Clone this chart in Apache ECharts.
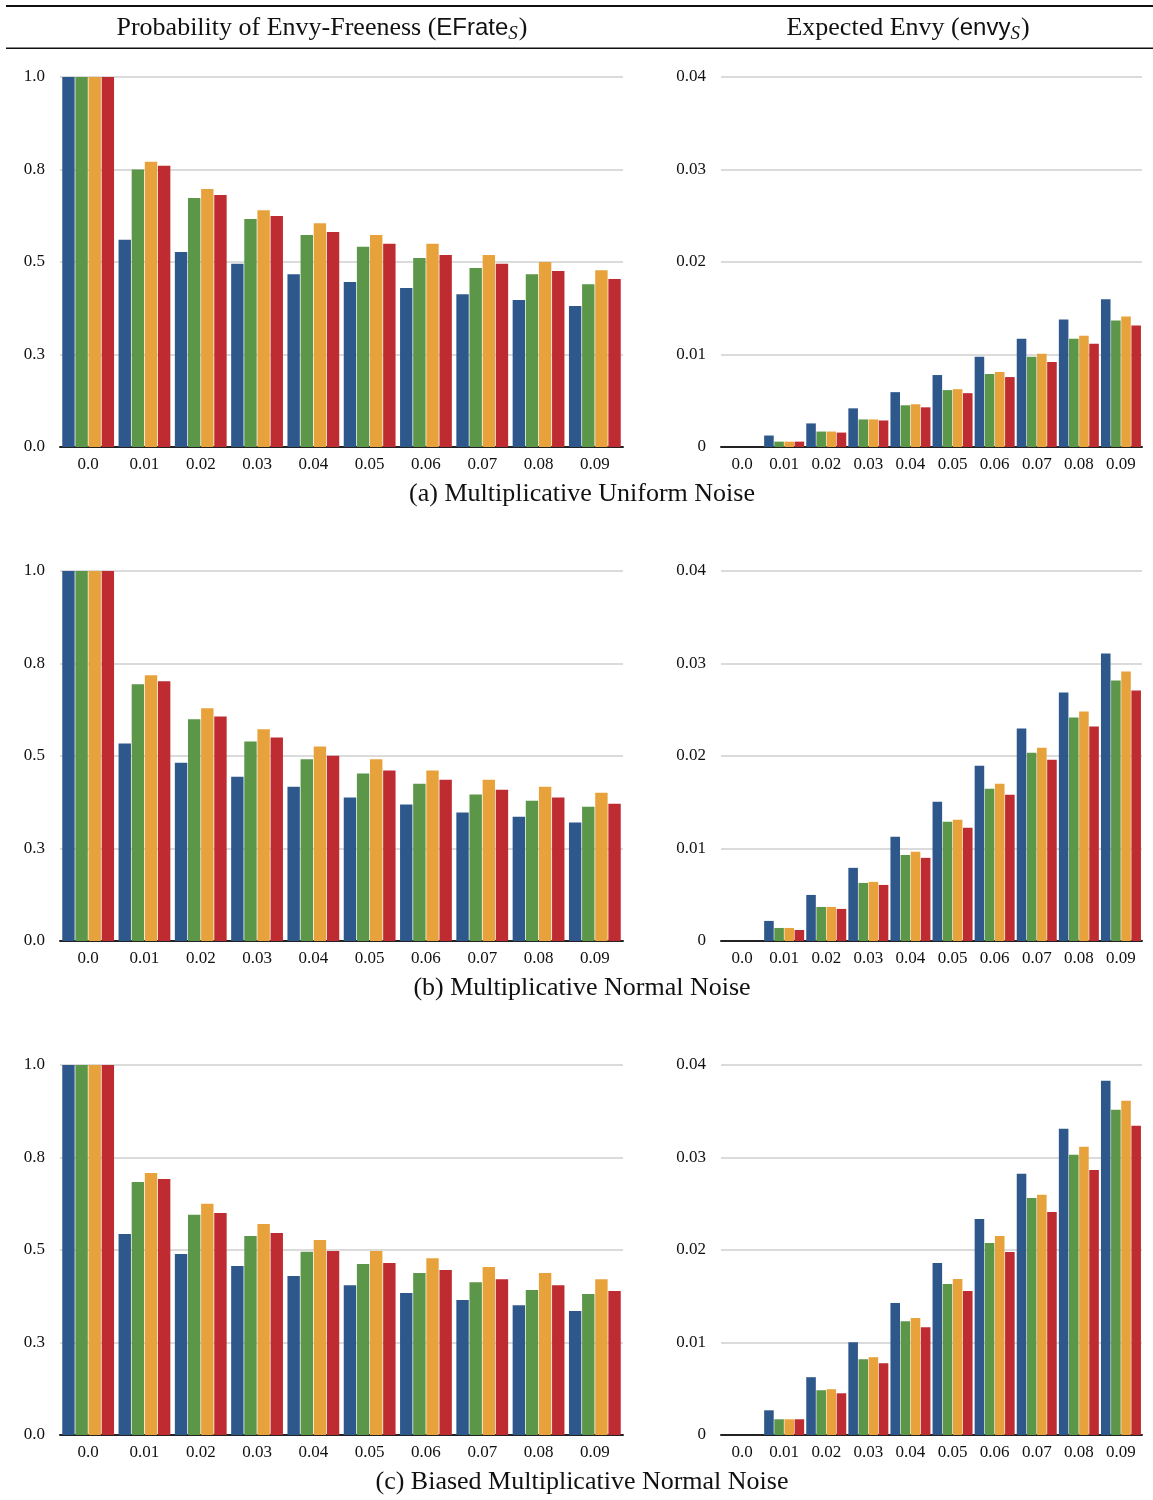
<!DOCTYPE html>
<html>
<head>
<meta charset="utf-8">
<title>Envy-freeness under noise</title>
<script src="https://cdn.jsdelivr.net/npm/echarts@6/dist/echarts.min.js"></script>
<style>
  html, body { margin: 0; padding: 0; background: #fff; }
  #chart { width: 1153px; height: 1500px; }
</style>
</head>
<body>
<div id="chart"></div>
<script>
// Noise levels on the x axis
const categories = ['0.0', '0.01', '0.02', '0.03', '0.04', '0.05', '0.06', '0.07', '0.08', '0.09'];

// Y tick labels (left: probability, right: expected envy)
const rateTickLabels = ['0.0', '0.3', '0.5', '0.8', '1.0'];
const envyTickLabels = ['0', '0.01', '0.02', '0.03', '0.04'];

const methodNames = ['Method 1', 'Method 2', 'Method 3', 'Method 4'];
const methodColors = ['#2E588C', '#5B9649', '#E7A23B', '#BE2C31'];

// (a) Multiplicative uniform noise
const uniformRate = [
  [1.0, 0.560, 0.527, 0.495, 0.467, 0.446, 0.430, 0.413, 0.397, 0.381],
  [1.0, 0.750, 0.673, 0.616, 0.573, 0.541, 0.511, 0.484, 0.467, 0.440],
  [1.0, 0.771, 0.697, 0.640, 0.605, 0.573, 0.549, 0.519, 0.500, 0.478],
  [1.0, 0.760, 0.681, 0.624, 0.581, 0.549, 0.519, 0.495, 0.476, 0.454]
];
const uniformEnvy = [
  [0, 0.00124, 0.00255, 0.00418, 0.00593, 0.00778, 0.00975, 0.01171, 0.01378, 0.01596],
  [0, 0.00058, 0.00167, 0.00298, 0.00451, 0.00615, 0.00789, 0.00975, 0.01171, 0.01367],
  [0, 0.00058, 0.00167, 0.00298, 0.00462, 0.00625, 0.00811, 0.01007, 0.01204, 0.01411],
  [0, 0.00058, 0.00156, 0.00287, 0.00429, 0.00582, 0.00756, 0.00920, 0.01116, 0.01313]
];

// (b) Multiplicative normal noise
const normalRate = [
  [1.0, 0.534, 0.482, 0.444, 0.417, 0.388, 0.369, 0.347, 0.336, 0.320],
  [1.0, 0.694, 0.599, 0.539, 0.491, 0.453, 0.425, 0.396, 0.379, 0.363],
  [1.0, 0.718, 0.629, 0.572, 0.526, 0.491, 0.461, 0.436, 0.417, 0.401],
  [1.0, 0.702, 0.607, 0.550, 0.501, 0.461, 0.436, 0.409, 0.388, 0.371]
];
const normalEnvy = [
  [0, 0.00217, 0.00498, 0.00791, 0.01126, 0.01505, 0.01895, 0.02296, 0.02686, 0.03108],
  [0, 0.00141, 0.00368, 0.00628, 0.00931, 0.01289, 0.01646, 0.02036, 0.02415, 0.02816],
  [0, 0.00141, 0.00368, 0.00639, 0.00964, 0.01310, 0.01700, 0.02090, 0.02480, 0.02913],
  [0, 0.00119, 0.00347, 0.00606, 0.00899, 0.01224, 0.01581, 0.01960, 0.02318, 0.02708]
];

// (c) Biased multiplicative normal noise
const biasedRate = [
  [1.0, 0.543, 0.489, 0.457, 0.430, 0.405, 0.384, 0.365, 0.351, 0.335],
  [1.0, 0.684, 0.595, 0.538, 0.495, 0.462, 0.438, 0.413, 0.392, 0.381],
  [1.0, 0.708, 0.625, 0.570, 0.527, 0.497, 0.478, 0.454, 0.438, 0.421],
  [1.0, 0.692, 0.600, 0.546, 0.497, 0.465, 0.446, 0.421, 0.405, 0.389]
];
const biasedEnvy = [
  [0, 0.00267, 0.00625, 0.01004, 0.01426, 0.01859, 0.02336, 0.02823, 0.03310, 0.03830],
  [0, 0.00170, 0.00484, 0.00819, 0.01231, 0.01632, 0.02076, 0.02563, 0.03029, 0.03516],
  [0, 0.00170, 0.00495, 0.00841, 0.01264, 0.01686, 0.02152, 0.02596, 0.03116, 0.03614],
  [0, 0.00170, 0.00451, 0.00776, 0.01166, 0.01556, 0.01978, 0.02412, 0.02866, 0.03343]
];

const captions = [
  '(a) Multiplicative Uniform Noise',
  '(b) Multiplicative Normal Noise',
  '(c) Biased Multiplicative Normal Noise'
];

const SERIF = '"Liberation Serif", "DejaVu Serif", serif';
const SANS = '"Liberation Sans", "DejaVu Sans", sans-serif';

const panels = [
  { data: uniformRate, kind: 'rate' }, { data: uniformEnvy, kind: 'envy' },
  { data: normalRate, kind: 'rate' },  { data: normalEnvy, kind: 'envy' },
  { data: biasedRate, kind: 'rate' },  { data: biasedEnvy, kind: 'envy' }
];

const rowTops = [77, 571, 1065];
const panelHeight = 370;
const leftBox = { left: 60, width: 563 };
const rightBox = { left: 721, width: 421 };

const grids = [], xAxes = [], yAxes = [], series = [];

panels.forEach((p, i) => {
  const row = Math.floor(i / 2);
  const box = p.kind === 'rate' ? leftBox : rightBox;
  grids.push({ left: box.left, top: rowTops[row], width: box.width, height: panelHeight });

  xAxes.push({
    type: 'category',
    gridIndex: i,
    data: categories,
    axisLine: { show: true, lineStyle: { color: '#222', width: 2 } },
    axisTick: { show: false },
    axisLabel: { color: '#111', fontFamily: SERIF, fontSize: 17, margin: 9 },
    splitLine: { show: false }
  });

  const isRate = p.kind === 'rate';
  const labels = isRate ? rateTickLabels : envyTickLabels;
  const step = isRate ? 0.25 : 0.01;
  yAxes.push({
    type: 'value',
    gridIndex: i,
    min: 0,
    max: isRate ? 1 : 0.04,
    interval: step,
    axisLine: { show: false },
    axisTick: { show: false },
    axisLabel: {
      color: '#111', fontFamily: SERIF, fontSize: 17, margin: 15,
      formatter: v => labels[Math.round(v / step)]
    },
    splitLine: { show: true, lineStyle: { color: '#cfcfcf', width: 1.5 } }
  });

  p.data.forEach((vals, k) => {
    series.push({
      type: 'bar',
      name: methodNames[k],
      xAxisIndex: i,
      yAxisIndex: i,
      data: vals,
      barGap: '6%',
      barCategoryGap: isRate ? '8%' : '5%',
      itemStyle: { color: methodColors[k] },
      emphasis: { disabled: true },
      silent: true,
      animation: false
    });
  });
});

const headRich = {
  n: { fontFamily: SERIF, fontSize: 26, fill: '#111' },
  sf: { fontFamily: SANS, fontSize: 24, fill: '#111' },
  sub: { fontFamily: SERIF, fontSize: 19, fontStyle: 'italic', fill: '#111', padding: [11, 1, 0, 0] }
};

const graphics = [
  // header rules
  { type: 'rect', shape: { x: 6, y: 5, width: 1147, height: 2 }, style: { fill: '#111' } },
  { type: 'rect', shape: { x: 6, y: 47.5, width: 1147, height: 1.5 }, style: { fill: '#111' } },
  // column headings
  {
    type: 'text', x: 322, y: 28,
    style: {
      text: '{n|Probability of Envy-Freeness (}{sf|EFrate}{sub|S}{n|)}',
      align: 'center', verticalAlign: 'middle', rich: headRich
    }
  },
  {
    type: 'text', x: 908, y: 28,
    style: {
      text: '{n|Expected Envy (}{sf|envy}{sub|S}{n|)}',
      align: 'center', verticalAlign: 'middle', rich: headRich
    }
  }
];

captions.forEach((c, r) => {
  graphics.push({
    type: 'text', x: 582, y: 494 + r * 494,
    style: {
      text: c, align: 'center', verticalAlign: 'middle',
      fontFamily: SERIF, fontSize: 26, fill: '#111'
    }
  });
});

const chart = echarts.init(document.getElementById('chart'), null, { renderer: 'canvas' });
chart.setOption({
  backgroundColor: '#fff',
  animation: false,
  grid: grids,
  xAxis: xAxes,
  yAxis: yAxes,
  series: series,
  graphic: graphics
});
</script>
</body>
</html>
